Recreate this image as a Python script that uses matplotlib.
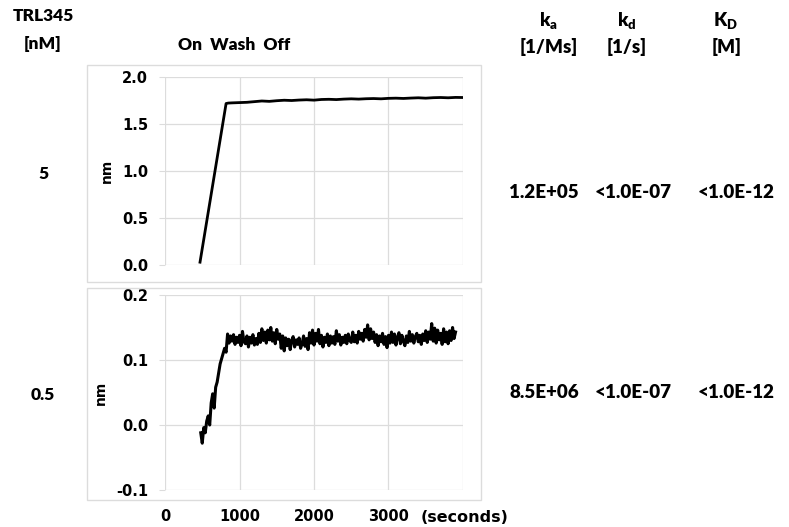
import numpy as np
import matplotlib
matplotlib.use("Agg")
import matplotlib.pyplot as plt
from matplotlib.patches import Rectangle

# 5 nM trace (nm vs seconds)
t5 = [470, 820, 850, 900, 1000, 1100, 1200, 1300, 1400, 1500, 1600, 1700, 1800,
      1900, 2000, 2100, 2200, 2300, 2400, 2500, 2600, 2700, 2800, 2900, 3000,
      3100, 3200, 3300, 3400, 3500, 3600, 3700, 3800, 3900, 3990]
y5 = [0.03, 1.715, 1.72, 1.722, 1.725, 1.728, 1.735, 1.742, 1.738, 1.745, 1.75,
      1.747, 1.752, 1.755, 1.751, 1.758, 1.76, 1.757, 1.762, 1.765, 1.762, 1.766,
      1.768, 1.765, 1.77, 1.772, 1.769, 1.773, 1.776, 1.772, 1.777, 1.779, 1.776,
      1.78, 1.779]

# 0.5 nM trace, sampled every 20 s from 480 s
t05 = np.arange(480, 3901, 20)
y05 = [-0.012, -0.028, -0.004, -0.012, 0.006, 0.014, 0.000, 0.034, 0.048, 0.026,
       0.058, 0.066, 0.080, 0.094, 0.102, 0.110, 0.118, 0.112,
       0.140, 0.126, 0.137, 0.129, 0.139, 0.124, 0.135, 0.127, 0.138, 0.122,
       0.144, 0.128, 0.125, 0.137, 0.120, 0.135, 0.126, 0.139, 0.123, 0.133,
       0.124, 0.141, 0.127, 0.148, 0.130, 0.143, 0.126, 0.146, 0.131, 0.150,
       0.129, 0.142, 0.125, 0.147, 0.132, 0.140, 0.118, 0.137, 0.114, 0.134,
       0.122, 0.132, 0.116, 0.130, 0.136, 0.120, 0.131, 0.124, 0.134, 0.118,
       0.125, 0.137, 0.121, 0.133, 0.116, 0.142, 0.126, 0.146, 0.123, 0.141,
       0.129, 0.147, 0.125, 0.138, 0.120, 0.135, 0.127, 0.140, 0.122, 0.137,
       0.126, 0.136, 0.124, 0.145, 0.129, 0.139, 0.123, 0.135, 0.127, 0.138,
       0.125, 0.140, 0.130, 0.127, 0.143, 0.128, 0.138, 0.126, 0.144, 0.132,
       0.141, 0.129, 0.147, 0.135, 0.154, 0.131, 0.148, 0.133, 0.143, 0.127,
       0.139, 0.122, 0.137, 0.128, 0.141, 0.124, 0.136, 0.119, 0.138, 0.126,
       0.143, 0.127, 0.140, 0.123, 0.135, 0.142, 0.125, 0.138, 0.129, 0.122,
       0.137, 0.127, 0.144, 0.129, 0.139, 0.126, 0.136, 0.141, 0.128, 0.138,
       0.124, 0.140, 0.130, 0.145, 0.127, 0.143, 0.132, 0.156, 0.129, 0.149,
       0.126, 0.146, 0.131, 0.141, 0.124, 0.148, 0.128, 0.143, 0.125, 0.145,
       0.130, 0.150, 0.133, 0.143]

concs = ["5", "0.5"]
ka = ["1.2E+05", "8.5E+06"]
kd = ["<1.0E-07", "<1.0E-07"]
KD = ["<1.0E-12", "<1.0E-12"]

W, H = 789, 527
fig = plt.figure(figsize=(W / 100, H / 100), dpi=100)
grid_c = "#dcdcdc"
lab_font = ["Lato", "DejaVu Sans"]
lab_w = 800

def fx(px):
    return px / W

def fy(py):
    return 1 - py / H

# outer frames like the spreadsheet chart areas
for top, bot in [(65, 282), (288, 500)]:
    fig.patches.append(Rectangle((fx(87), fy(bot)), fx(481) - fx(87), fy(top) - fy(bot),
                                 transform=fig.transFigure, fill=False,
                                 edgecolor=grid_c, lw=1))

ax1 = fig.add_axes([fx(165), fy(265), fx(463) - fx(165), fy(76.7) - fy(265)])
ax2 = fig.add_axes([fx(165), fy(490), fx(463) - fx(165), fy(295) - fy(490)])

ax1.plot(t5, y5, color="black", lw=2)
ax2.plot(t05, y05, color="black", lw=2.2)

ax1.set_ylim(0, 2.0)
ax1.set_yticks([0.0, 0.5, 1.0, 1.5, 2.0])
ax2.set_ylim(-0.1, 0.2)
ax2.set_yticks([-0.1, 0.0, 0.1, 0.2])

for ax in (ax1, ax2):
    ax.set_xlim(0, 4000)
    ax.set_xticks([0, 1000, 2000, 3000, 4000])
    ax.grid(True, color=grid_c, lw=0.9)
    ax.set_axisbelow(True)
    for s in ax.spines.values():
        s.set_visible(False)
    ax.tick_params(axis="y", length=4, color=grid_c, pad=8, labelsize=10.5)
    ax.tick_params(axis="x", length=0, labelsize=10.5, pad=14)
    ax.set_yticklabels(["%.1f" % v for v in ax.get_yticks()], fontweight="bold")
    ax.set_ylabel("nm", fontsize=10, fontweight="bold", labelpad=6)

ax1.tick_params(axis="x", labelbottom=False)
ax2.set_xticklabels(["0", "1000", "2000", "3000", ""], fontweight="bold")
fig.text(fx(465), fy(517), "(seconds)", ha="center", va="center",
         fontsize=11.5, fontweight="bold")

# left-hand and header text
def label(x, y, s, size=12.5):
    fig.text(fx(x), fy(y), s, ha="center", va="center", fontsize=size,
             fontweight=lab_w, family=lab_font)

label(43, 16, "TRL345")
label(43, 44, "[nM]")
label(234, 45, "On  Wash  Off")
label(548, 21, "k$_\\mathregular{a}$", 13.5)
label(549, 47, "[1/Ms]", 13.5)
label(627, 21, "k$_\\mathregular{d}$", 13.5)
label(627, 47, "[1/s]", 13.5)
label(725, 21, "K$_\\mathregular{D}$", 13.5)
label(727, 47, "[M]", 13.5)

for i, (conc_y, row_y) in enumerate([(174, 193), (395, 393)]):
    label(43, conc_y, concs[i])
    label(544, row_y, ka[i], 13.5)
    label(633, row_y, kd[i], 13.5)
    label(736, row_y, KD[i], 13.5)

fig.savefig("out.png", dpi=100)
